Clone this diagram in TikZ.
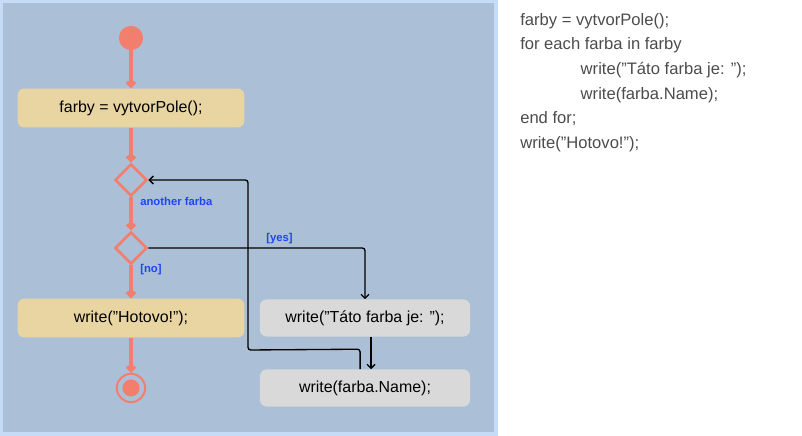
\documentclass[tikz,border=0pt]{standalone}
\usepackage{fontspec}
\setmainfont{Liberation Sans}
\usetikzlibrary{shapes.geometric,arrows.meta}
\definecolor{flow}{HTML}{F27F6E}
\definecolor{panel}{HTML}{ABBFD6}
\definecolor{frame}{HTML}{C6DBF6}
\definecolor{tan}{HTML}{E8D5A2}
\definecolor{grey}{HTML}{D9D9D9}
\definecolor{guard}{HTML}{1E46F0}
\newcommand{\qt}{\symbol{34}}
\begin{document}
\begin{tikzpicture}[x=0.02646cm,y=-0.02646cm,
            act/.style={shape=rectangle, rounded corners=5pt, font=\fontsize{12}{14}\selectfont},
            task/.style={act, fill=tan, minimum width=6cm, minimum height=1.03cm},
            loopstep/.style={act, fill=grey, minimum width=5.56cm, minimum height=0.98cm},
            choice/.style={shape=diamond, draw=flow, line width=2pt, minimum size=0.85cm, inner sep=0pt},
            main/.style={draw=flow, line width=2.5pt, -{Straight Barb[length=3pt,width=6pt]}},
            back/.style={draw=black, line width=1pt, rounded corners=2pt, -{Straight Barb[length=3pt,width=6pt]}},
            tag/.style={text=guard, font=\bfseries\fontsize{8.5}{10}\selectfont, anchor=west, inner sep=0pt}]
        \useasboundingbox (0,0) rectangle (802,436);
        \fill[frame] (0,0) rectangle (498,436);
        \fill[panel] (3,3) rectangle (494,432);

        \node[shape=circle, fill=flow, minimum size=0.64cm, inner sep=0pt] (start) at (131,38) {};
        \node[task] (farby) at (131,108) {farby = vytvorPole();};
        \node[choice] (loop) at (131,180) {};
        \node[choice] (test) at (131,248) {};
        \node[task] (done) at (131,318) {write(\qt Hotovo!\qt);};
        \node[loopstep] (label) at (365,318) {write(\qt Táto farba je: \qt);};
        \node[loopstep] (name) at (365,388) {write(farba.Name);};
        \node[shape=circle, draw=flow, line width=1.5pt, minimum size=0.75cm, inner sep=0pt] (stop) at (131,388) {};
        \node[shape=circle, fill=flow, minimum size=0.45cm, inner sep=0pt] at (stop) {};

        \draw[main] (start) -- (farby);
        \draw[main] (farby) -- (loop);
        \draw[main] (loop) -- (test);
        \draw[main] (test) -- (done);
        \draw[main] (done) -- (stop);

        \draw[back] (test.east) -| (label.north);
        \draw[back] ([xshift=0.16cm]label.south) -- ([xshift=0.16cm]name.north);
        \draw[back] ([xshift=-0.13cm]name.north) -- ++(0,-20) -- (248,350) -- (248,180) -- (loop.east);

        \node[tag] at (140,201) {another farba};
        \node[tag] at (266,239) {[yes]};
        \node[tag] at (140,270) {[no]};

        \node[anchor=north west, align=left, text=black!70, inner sep=0pt,
              font=\fontsize{12.5}{18.5}\selectfont] at (520,13) {farby = vytvorPole();\\
for each farba in farby\\
\hspace*{1.6cm}write(\qt Táto farba je: \qt);\\
\hspace*{1.6cm}write(farba.Name);\\
end for;\\
write(\qt Hotovo!\qt);};
\end{tikzpicture}
\end{document}
